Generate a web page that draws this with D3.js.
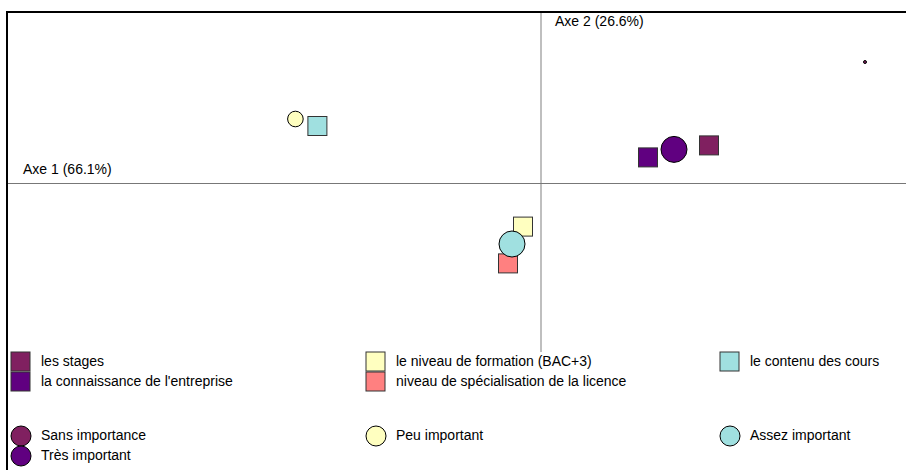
<!DOCTYPE html>
<html>
<head>
<meta charset="utf-8">
<script src="https://cdn.jsdelivr.net/npm/d3@7"></script>
<style>
  body { margin: 0; background: white; }
  text { font-family: "Liberation Sans", Arial, sans-serif; font-size: 14px; fill: #000; }
</style>
</head>
<body>
<svg width="906" height="470"></svg>
<script>
// row categories (squares) and their coordinates on the two axes
var rowLabels = ["les stages", "le niveau de formation (BAC+3)", "le contenu des cours",
                 "la connaissance de l'entreprise", "niveau de spécialisation de la licence"];
var rowAxe1 = [0.42, -0.045, -0.559, 0.2675, -0.0825];
var rowAxe2 = [0.094, -0.109, 0.1425, 0.064, -0.201];

// column categories (circles), their coordinates and weights
var colLabels = ["Sans importance", "Peu important", "Assez important", "Très important"];
var colAxe1 = [0.81, -0.614, -0.0725, 0.3325];
var colAxe2 = [0.3025, 0.16, -0.1525, 0.084];
var colWeight = [0, 9, 30, 30];

var axisTitles = ["Axe 1 (66.1%)", "Axe 2 (26.6%)"];

// colours
var rowColors = ["#802060", "#ffffc0", "#a0e0e0", "#600080", "#ff8080"];
var colColors = ["#802060", "#ffffc0", "#a0e0e0", "#600080"];

var svg = d3.select("svg");

// plot frame
var plotLeft = 7, plotRight = 906, plotTop = 12, plotBottom = 352;

var x = d3.scaleLinear().domain([-1.335, 0.9125]).range([plotLeft, plotRight]),
    y = d3.scaleLinear().domain([-0.4225, 0.4275]).range([plotBottom, plotTop]),
    r = d3.scaleSqrt().domain([0, 30]).range([1.5, 13]);

// axes through the origin
svg.append("line")
    .attr("x1", x(0)).attr("x2", x(0))
    .attr("y1", plotTop).attr("y2", plotBottom)
    .attr("stroke", "#aaa").attr("stroke-width", 1.5);
svg.append("line")
    .attr("x1", plotLeft).attr("x2", plotRight)
    .attr("y1", y(0) + 0.5).attr("y2", y(0) + 0.5)
    .attr("stroke", "#777").attr("stroke-width", 1);

// border top and left
svg.append("path")
    .attr("d", "M" + plotLeft + ",470V" + plotTop + "H" + plotRight)
    .attr("fill", "none")
    .attr("stroke", "#000")
    .attr("stroke-width", 2);

// axis titles
svg.append("text")
    .attr("x", 23).attr("y", y(0) - 9)
    .text(axisTitles[0]);
svg.append("text")
    .attr("x", x(0) + 14).attr("y", plotTop + 14)
    .text(axisTitles[1]);

var rows = rowLabels.map(function(d, i) {
  return {label: d, a1: rowAxe1[i], a2: rowAxe2[i], color: rowColors[i]};
});
var cols = colLabels.map(function(d, i) {
  return {label: d, a1: colAxe1[i], a2: colAxe2[i], w: colWeight[i], color: colColors[i]};
});

var sq = 19;
// squares for the rows
svg.append("g").selectAll("rect")
    .data(rows)
  .enter().append("rect")
    .attr("x", function(d) { return x(d.a1) - sq / 2; })
    .attr("y", function(d) { return y(d.a2) - sq / 2; })
    .attr("width", sq)
    .attr("height", sq)
    .attr("fill", function(d) { return d.color; })
    .attr("stroke", "#333")
    .attr("stroke-width", 1);

// circles for the columns
svg.append("g").selectAll("circle")
    .data(cols)
  .enter().append("circle")
    .attr("cx", function(d) { return x(d.a1); })
    .attr("cy", function(d) { return y(d.a2); })
    .attr("r", function(d) { return r(d.w); })
    .attr("fill", function(d) { return d.color; })
    .attr("stroke", "#000")
    .attr("stroke-width", 1);

// legend, 3 columns, row-major
var legX = [11, 366, 720];

var legRows = svg.append("g").selectAll("g")
    .data(rows)
  .enter().append("g")
    .attr("transform", function(d, i) {
      return "translate(" + legX[i % 3] + "," + (352 + Math.floor(i / 3) * 20) + ")";
    });
legRows.append("rect")
    .attr("width", 19).attr("height", 19)
    .attr("fill", function(d) { return d.color; })
    .attr("stroke", "#333");
legRows.append("text")
    .attr("x", 30).attr("y", 14)
    .text(function(d) { return d.label; });

var legCols = svg.append("g").selectAll("g")
    .data(cols)
  .enter().append("g")
    .attr("transform", function(d, i) {
      return "translate(" + legX[i % 3] + "," + (426 + Math.floor(i / 3) * 20) + ")";
    });
legCols.append("circle")
    .attr("cx", 10).attr("cy", 10).attr("r", 10)
    .attr("fill", function(d) { return d.color; })
    .attr("stroke", "#000");
legCols.append("text")
    .attr("x", 30).attr("y", 14)
    .text(function(d) { return d.label; });
</script>
</body>
</html>
